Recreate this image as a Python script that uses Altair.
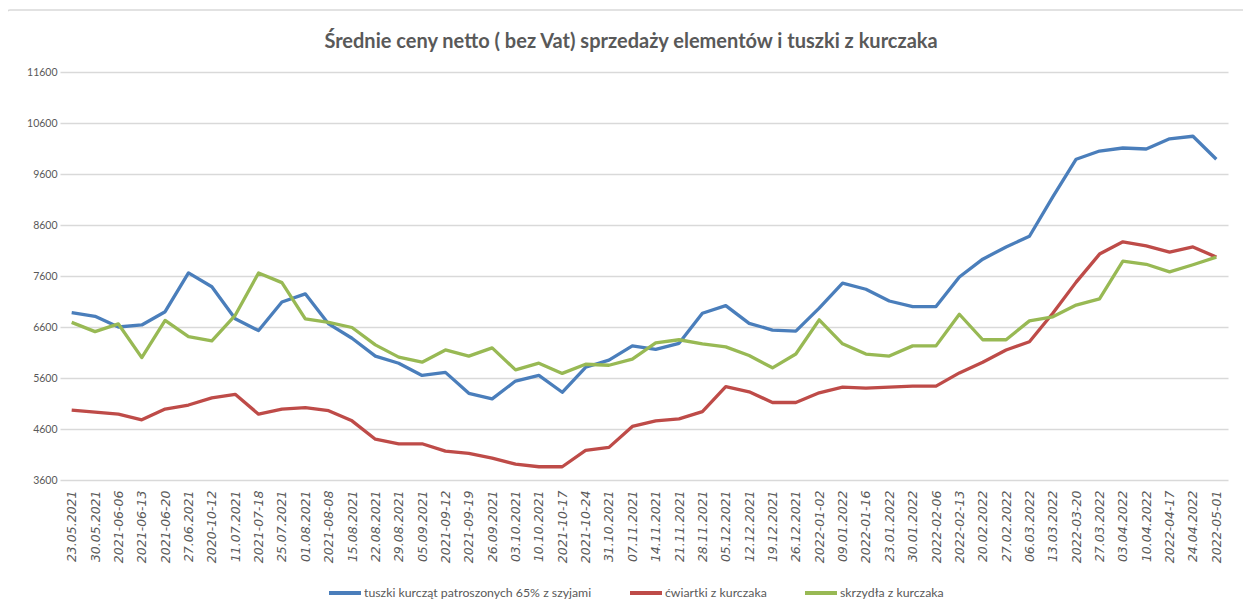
import altair as alt
import pandas as pd

dates = ["23.05.2021", "30.05.2021", "2021-06-06", "2021-06-13", "2021-06-20", "27.06.2021",
         "2020-10-12", "11.07.2021", "2021-07-18", "25.07.2021", "01.08.2021", "2021-08-08",
         "15.08.2021", "22.08.2021", "29.08.2021", "05.09.2021", "2021-09-12", "2021-09-19",
         "26.09.2021", "03.10.2021", "10.10.2021", "2021-10-17", "2021-10-24", "31.10.2021",
         "07.11.2021", "14.11.2021", "21.11.2021", "28.11.2021", "05.12.2021", "12.12.2021",
         "19.12.2021", "26.12.2021", "2022-01-02", "09.01.2022", "2022-01-16", "23.01.2022",
         "30.01.2022", "2022-02-06", "2022-02-13", "20.02.2022", "27.02.2022", "06.03.2022",
         "13.03.2022", "2022-03-20", "27.03.2022", "03.04.2022", "10.04.2022", "2022-04-17",
         "24.04.2022", "2022-05-01"]

tuszki = [6880, 6810, 6600, 6640, 6900, 7660, 7390, 6760, 6530, 7090,
          7250, 6660, 6380, 6030, 5890, 5650, 5710, 5300, 5190, 5540,
          5650, 5320, 5810, 5950, 6230, 6160, 6280, 6870, 7020, 6670,
          6540, 6520, 6970, 7460, 7340, 7110, 7000, 7000, 7580, 7930,
          8170, 8380, 9150, 9890, 10050, 10110, 10090, 10290, 10340, 9890]

cwiartki = [4970, 4930, 4890, 4780, 4990, 5070, 5210, 5280, 4890, 4990,
            5020, 4960, 4760, 4400, 4310, 4310, 4165, 4120, 4030, 3910,
            3860, 3860, 4180, 4240, 4650, 4760, 4800, 4940, 5430, 5330,
            5120, 5120, 5310, 5420, 5400, 5420, 5440, 5440, 5700, 5910,
            6150, 6310, 6870, 7480, 8030, 8270, 8190, 8070, 8170, 7970]

skrzydla = [6690, 6510, 6660, 6000, 6730, 6410, 6330, 6830, 7660, 7470,
            6760, 6690, 6590, 6250, 6010, 5910, 6150, 6030, 6190, 5760,
            5890, 5690, 5870, 5850, 5970, 6290, 6350, 6270, 6210, 6040,
            5800, 6070, 6740, 6270, 6070, 6030, 6230, 6230, 6850, 6350,
            6350, 6720, 6800, 7030, 7150, 7890, 7830, 7680, 7820, 7970]

series_names = ["tuszki kurcząt patroszonych 65% z szyjami", "ćwiartki z kurczaka", "skrzydła z kurczaka"]
series_colors = ["#4A7EBB", "#BE4B48", "#98B954"]
y_ticks = [3600, 4600, 5600, 6600, 7600, 8600, 9600, 10600, 11600]
title_text = "Średnie ceny netto ( bez Vat) sprzedaży elementów i tuszki z kurczaka"

rows = []
for name, vals in zip(series_names, [tuszki, cwiartki, skrzydla]):
    for i, (d, v) in enumerate(zip(dates, vals)):
        rows.append({"data": d, "seria": name, "cena": v, "idx": i})
df = pd.DataFrame(rows)

FONT = "Lato, Open Sans, sans-serif"
W, H = 1168, 408

lines = alt.Chart(df).mark_line(strokeWidth=3.3, strokeJoin="round").encode(
    x=alt.X("data:N", sort=dates, scale=alt.Scale(paddingInner=0, paddingOuter=0.5),
            axis=alt.Axis(title=None, labelAngle=-90, labelFont="DejaVu Sans", labelFontSize=12.5,
                          labelFontStyle="italic", labelColor="#595959", ticks=False,
                          labelPadding=10, domain=False, grid=False, labelOverlap=False)),
    y=alt.Y("cena:Q", scale=alt.Scale(domain=[3600, 11600], nice=False, zero=False),
            axis=alt.Axis(title=None, values=y_ticks, format="d", labelFont=FONT, labelFontSize=10.5,
                          labelColor="#595959", ticks=False, domain=False, labelPadding=3,
                          gridColor="#D9D9D9", gridWidth=1.5)),
    color=alt.Color("seria:N", sort=series_names,
                    scale=alt.Scale(domain=series_names, range=series_colors),
                    legend=alt.Legend(title=None, orient="none", direction="horizontal",
                                      legendX=267, legendY=503, symbolType="stroke",
                                      symbolSize=1024, symbolStrokeWidth=4,
                                      labelFont=FONT, labelFontSize=12.3, labelColor="#595959",
                                      labelLimit=400, columnPadding=30, labelOffset=1)),
    detail="seria:N",
    order="idx:Q",
)

base = alt.Chart(pd.DataFrame({"t": [title_text]}))

frame = base.mark_rect(
    filled=False, stroke="#D9D9D9", strokeWidth=1.5, cornerRadius=3
).encode(x=alt.value(-53), x2=alt.value(W + 40), y=alt.value(-62), y2=alt.value(H + 160))

title = base.mark_text(
    font=FONT, fontSize=20, fontWeight="bold", color="#595959", align="center", baseline="middle"
).encode(text="t:N", x=alt.value(W / 2 - 13), y=alt.value(-30))

chart = alt.layer(frame, title, lines).properties(
    width=W, height=H,
    autosize=alt.AutoSizeParams(type="none"),
    padding={"left": 52, "top": 64, "right": 15, "bottom": 127},
    background="white",
).configure_view(stroke=None)

chart.save("out.html", embed_options={"renderer": "svg", "actions": False})
